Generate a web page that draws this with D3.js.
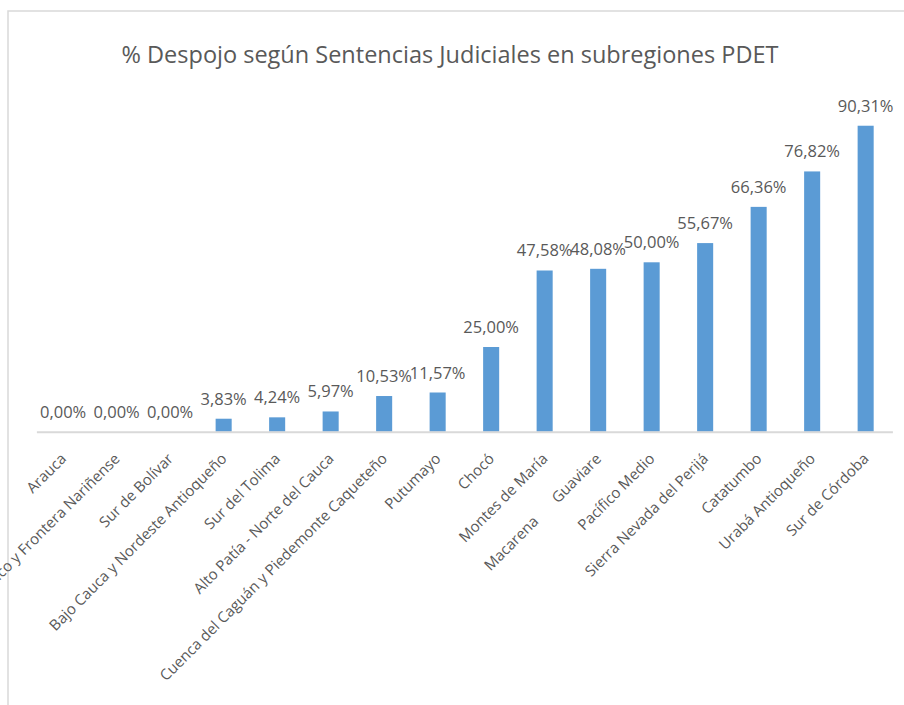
<!DOCTYPE html>
<html>
<head>
<meta charset="utf-8">
<script src="https://cdn.jsdelivr.net/npm/d3@7"></script>
<style>
  html, body { margin: 0; padding: 0; background: #fff; }
  svg { display: block; }
  text { font-family: "Open Sans", sans-serif; fill: #595959; }
</style>
</head>
<body>
<svg id="chart" width="904" height="705"></svg>
<script>
const title = "% Despojo según Sentencias Judiciales en subregiones PDET";
const categories = [
  "Arauca",
  "Pacífico y Frontera Nariñense",
  "Sur de Bolívar",
  "Bajo Cauca y Nordeste Antioqueño",
  "Sur del Tolima",
  "Alto Patía - Norte del Cauca",
  "Cuenca del Caguán y Piedemonte Caqueteño",
  "Putumayo",
  "Chocó",
  "Montes de María",
  "Macarena Guaviare",
  "Pacífico Medio",
  "Sierra Nevada del Perijá",
  "Catatumbo",
  "Urabá Antioqueño",
  "Sur de Córdoba"
];
const values = [0.00, 0.00, 0.00, 3.83, 4.24, 5.97, 10.53, 11.57, 25.00, 47.58, 48.08, 50.00, 55.67, 66.36, 76.82, 90.31];

const svg = d3.select("#chart");
const W = 904, H = 705;

// chart frame
svg.append("rect")
  .attr("x", 8).attr("y", 11)
  .attr("width", W + 10).attr("height", H + 10)
  .attr("fill", "#fff").attr("stroke", "#D9D9D9").attr("stroke-width", 1.5);

const x = d3.scaleBand().domain(categories).range([36.4, 892.4]).paddingInner(0.7).paddingOuter(0.35);
const y = d3.scaleLinear().domain([0, 100]).range([431.7, 92.9]);

// title
svg.append("text")
  .attr("x", 450).attr("y", 63)
  .attr("text-anchor", "middle")
  .style("font-size", "23.5px")
  .text(title);

// bars
svg.append("g").selectAll("rect").data(values).join("rect")
  .attr("x", (d, i) => x(categories[i]))
  .attr("width", x.bandwidth())
  .attr("y", d => y(d))
  .attr("height", d => y(0) - y(d))
  .attr("fill", "#5B9BD5");

// axis line
const axis = svg.append("g").attr("transform", `translate(0,${y(0)})`)
  .call(d3.axisBottom(x).tickSize(0).tickFormat(""));
axis.select(".domain").attr("stroke", "#D9D9D9").attr("stroke-width", 2);

// value labels
const fmt = v => v.toFixed(2).replace(".", ",") + "%";
svg.append("g").selectAll("text").data(values).join("text")
  .attr("x", (d, i) => x(categories[i]) + x.bandwidth() / 2)
  .attr("y", d => y(d) - 14)
  .attr("text-anchor", "middle")
  .style("font-size", "16.5px")
  .text(d => fmt(d));

// category labels
const labels = svg.append("g").selectAll("text").data(categories).join("text")
  .attr("text-anchor", "end")
  .style("font-size", "15px")
  .attr("transform", d => `translate(${x(d) + x.bandwidth() / 2 + 4},${y(0) + 28}) rotate(-45)`);
labels.each(function(d) {
  const t = d3.select(this);
  if (d === "Macarena Guaviare") {
    t.append("tspan").text("Macarena");
    t.append("tspan").attr("dx", 26).text("Guaviare");
  } else {
    t.text(d);
  }
});
</script>
</body>
</html>
